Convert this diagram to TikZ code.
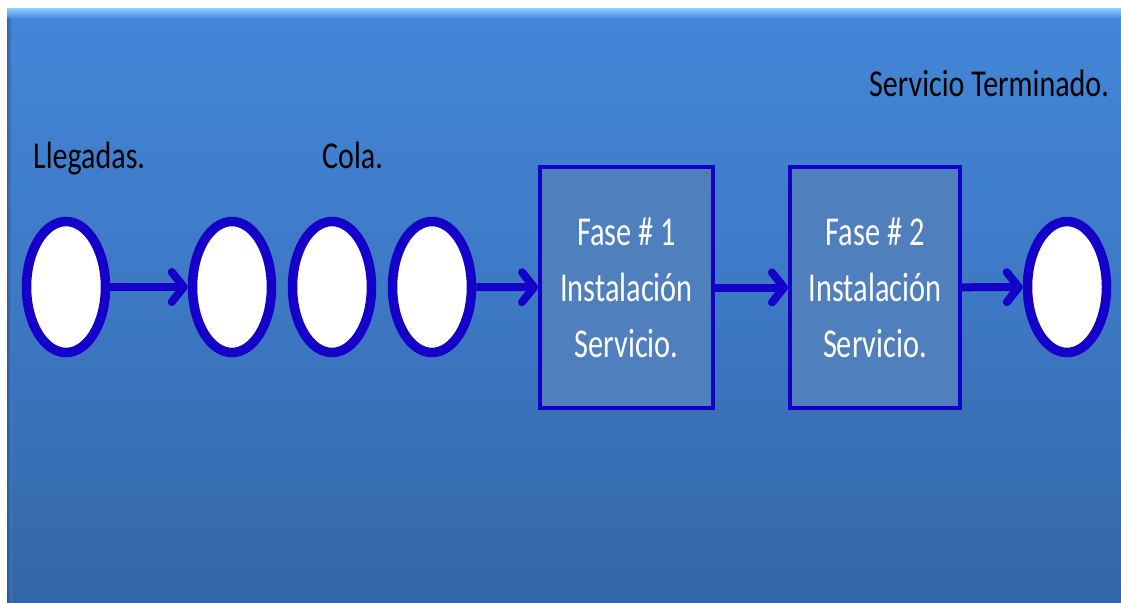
\documentclass[tikz,border=0pt]{standalone}
\usepackage{fontspec}
\setmainfont{Carlito}
\newfontfamily\cond[FakeStretch=0.74]{Carlito}
\newfontfamily\capfont[FakeStretch=0.79]{Carlito}
\usetikzlibrary{shapes.geometric,arrows.meta}

\definecolor{bgtop}{HTML}{4386D8}
\definecolor{bgmid}{HTML}{3D78C4}
\definecolor{bgbot}{HTML}{3466A6}
\definecolor{bghi}{HTML}{86C6FF}
\definecolor{edgeblue}{HTML}{1400C8}
\definecolor{boxfill}{HTML}{4F7FBC}

\tikzset{
  token/.style={ellipse, draw=edgeblue, fill=white, line width=9.5pt,
    inner sep=0pt, minimum width=79pt, minimum height=131pt},
  phase/.style={rectangle, draw=edgeblue, fill=boxfill, line width=4pt,
    inner sep=0pt, minimum height=241pt, align=center, text=white,
    font=\cond\fontsize{41}{56}\selectfont},
  caption/.style={anchor=base west, inner sep=0pt, text=black,
    font=\capfont\fontsize{38}{46}\selectfont},
  flow/.style={draw=edgeblue, line width=8pt,
    -{Straight Barb[length=12pt,width=30pt,line cap=round,line join=round]}}
}

\begin{document}
\begin{tikzpicture}[x=1pt,y=-1pt]
\useasboundingbox (0,0) rectangle (1121,602);

% panel background
\shade[top color=bgtop, bottom color=bgbot, middle color=bgmid]
  (7,9) rectangle (1121,602);
\shade[top color=bghi, bottom color=bgtop] (7,9) rectangle (1121,19);
\shade[left color=bgbot!80!black, right color=bgtop, opacity=0.6]
  (7,19) rectangle (12,602);

% captions
\node[caption] (lbl-in) at (33,168) {Llegadas.};
\node[caption] (lbl-q) at (322,168) {Cola.};
\node[caption] (lbl-out) at (869,96) {Servicio Terminado.};

% customers
\node[token] (c1) at (66,287) {};
\node[token] (c2) at (232,287) {};
\node[token] (c3) at (332,287) {};
\node[token] (c4) at (432,287) {};
\node[token] (c5) at (1067,287) {};

% service phases
\node[phase, minimum width=173pt] (f1) at (626.5,287.5)
  {Fase \# 1\\Instalación\\Servicio.};
\node[phase, minimum width=170pt] (f2) at (875,287.5)
  {Fase \# 2\\Instalación\\Servicio.};

% flow
\draw[flow] (c1) -- (c2);
\draw[flow] (c4) -- (f1);
\draw[flow] (f1) -- (f2);
\draw[flow] (f2) -- (c5);
\end{tikzpicture}
\end{document}
